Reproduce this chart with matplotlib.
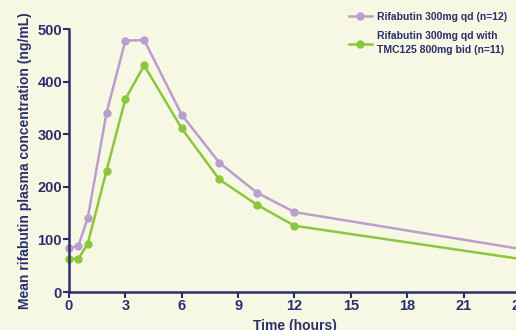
import matplotlib
matplotlib.use('Agg')
import matplotlib.pyplot as plt

# data
horas = [0, 0.5, 1, 2, 3, 4, 6, 8, 10, 12, 24]
rifabutin_sola = [83, 88, 141, 341, 478, 479, 337, 246, 189, 152, 82]
rifabutin_tmc = [63, 63, 92, 231, 367, 431, 311, 214, 166, 126, 63]
etiquetas = ['Rifabutin 300mg qd (n=12)',
             'Rifabutin 300mg qd with\nTMC125 800mg bid (n=11)']
ticks_x = [0, 3, 6, 9, 12, 15, 18, 21, 24]
ticks_y = [0, 100, 200, 300, 400, 500]

fondo = '#F7F8E3'
azul = '#2B2F6E'
morado = '#BC9DD0'
verde = '#8CC63F'

plt.rcParams['font.family'] = ['Liberation Sans', 'DejaVu Sans']
plt.rcParams['font.weight'] = 'bold'

fig = plt.figure(figsize=(5.16, 3.30), dpi=100, facecolor=fondo)
ax = fig.add_axes([0.1337, 0.115, 0.874, 0.797], facecolor=fondo)

ax.plot(horas, rifabutin_sola, color=morado, lw=1.8, marker='o', ms=5,
        label=etiquetas[0], clip_on=False)
ax.plot(horas, rifabutin_tmc, color=verde, lw=1.8, marker='o', ms=5,
        label=etiquetas[1], clip_on=False)

ax.set_xlim(0, 24)
ax.set_ylim(0, 500)
ax.set_xticks(ticks_x)
ax.set_yticks(ticks_y)

for lado in ['top', 'right']:
    ax.spines[lado].set_visible(False)
for lado in ['left', 'bottom']:
    ax.spines[lado].set_color(azul)
    ax.spines[lado].set_linewidth(1.8)
ax.tick_params(colors=azul, width=1.5, length=4, labelsize=10.5, pad=1)
for t in ax.get_xticklabels() + ax.get_yticklabels():
    t.set_fontweight('bold')

ax.set_xlabel('Time (hours)', color=azul, fontsize=10, fontweight='bold', labelpad=4)
ax.set_ylabel('Mean rifabutin plasma concentration (ng/mL)', color=azul,
              fontsize=10, fontweight='bold', labelpad=4)

leg = ax.legend(loc='upper left', bbox_to_anchor=(0.6, 1.1), frameon=False,
                fontsize=7.5, handlelength=2.2, handletextpad=0.5, labelspacing=0.9)
for t in leg.get_texts():
    t.set_color(azul)
    t.set_fontweight('bold')
    t.set_linespacing(1.45)

plt.savefig('out.png', dpi=100, facecolor=fondo)
plt.close()
